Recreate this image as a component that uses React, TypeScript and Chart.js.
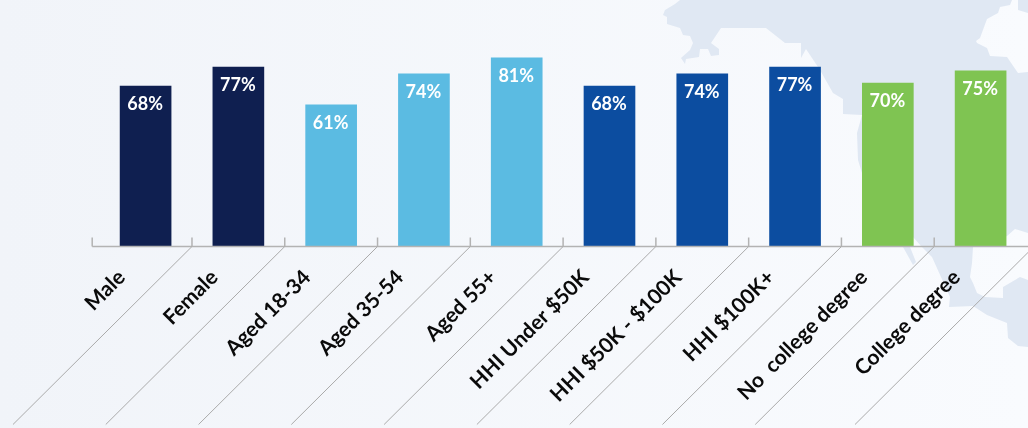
import React, { useEffect, useRef } from "react";
import { Chart, registerables } from "chart.js";

Chart.register(...registerables);

const categories = [
  "Male", "Female", "Aged 18-34", "Aged 35-54", "Aged 55+",
  "HHI Under $50K", "HHI $50K - $100K", "HHI $100K+", "No  college degree", "College degree",
];
// Bar heights.
const values = [68.8, 77.0, 60.7, 74.0, 80.9, 68.8, 74.0, 77.0, 70.1, 75.3];
// Percentages as printed on the bars.
const printedValues = [68, 77, 61, 74, 81, 68, 74, 77, 70, 75];
const barColors = [
  "#0f1f50", "#0f1f50", "#5bbbe2", "#5bbbe2", "#5bbbe2",
  "#0c4da0", "#0c4da0", "#0c4da0", "#7fc452", "#7fc452",
];

const MAP_MAIN =
  "680,0 675,4 665,10 663,15 667,17 667,24 680,28 683,35 690,36 693,43 690,50 681,58 685,64 686,59 699,57 700,49 708,49 711,56 719,55 719,49 711,43 721,28 766,28 785,43 801,43 801,58 806,49 820,70 833,93 843,99 843,114 862,115 857,133 858,160 862,173 880,210 900,240 903,247 913,265 916,262 910,247 913,237 921,246 932,257 950,297 949,307 973,306 987,315 1007,323 1008,338 1018,346 1028,347 1028,280 1020,277 1003,287 1003,298 985,297 977,293 973,283 970,277 972,263 973,247 1007,236 1015,229 1028,233 1028,72 1018,73 1007,57 990,56 987,48 977,43 976,41 980,38 987,19 998,13 1000,7 1010,5 1012,0";
const MAP_CORNER = "1018,0 1018,10 1028,13 1028,0";

const AXIS_COLOR = "#b3b3b3";
const DIAGONAL_COLOR = "#aaaaaa";

const decorPlugin = {
  id: "decor",
  afterDatasetsDraw(chart: any) {
    const { ctx, chartArea, scales } = chart;
    const x = scales.x;
    const n = categories.length;
    const step = x.getPixelForTick(1) - x.getPixelForTick(0);
    const axisY = chartArea.bottom + 0.5;
    const edges: number[] = [];
    for (let i = 0; i <= n; i++) {
      let px = x.getPixelForTick(0) + step * (i - 0.5);
      if (i === 0) px -= 7;
      if (i === n) px += 7;
      edges.push(px);
    }
    ctx.save();
    ctx.strokeStyle = AXIS_COLOR;
    ctx.lineWidth = 1.5;
    ctx.beginPath();
    ctx.moveTo(edges[0], axisY);
    ctx.lineTo(chart.width, axisY);
    edges.forEach((px) => {
      ctx.moveTo(px, axisY);
      ctx.lineTo(px, axisY - 9);
    });
    ctx.stroke();
    ctx.strokeStyle = DIAGONAL_COLOR;
    ctx.lineWidth = 1;
    ctx.beginPath();
    edges.slice(1).forEach((px) => {
      ctx.moveTo(px, axisY);
      ctx.lineTo(px - 179, axisY + 178);
    });
    ctx.stroke();
    ctx.restore();
  },
};

const valueLabelPlugin = {
  id: "valueLabels",
  afterDatasetsDraw(chart: any) {
    const { ctx } = chart;
    const meta = chart.getDatasetMeta(0);
    ctx.save();
    ctx.fillStyle = "#ffffff";
    ctx.font = 'bold 18px Lato';
    ctx.textAlign = "center";
    ctx.textBaseline = "middle";
    meta.data.forEach((bar: any, i: number) => {
      ctx.fillText(`${printedValues[i]}%`, bar.x - 0.5, bar.y + 18.5);
    });
    ctx.restore();
  },
};

export default function App() {
  const ref = useRef<HTMLCanvasElement>(null);
  useEffect(() => {
    document.body.style.margin = "0";
    const chart = new Chart(ref.current!, {
      type: "bar",
      data: {
        labels: categories,
        datasets: [{
          data: values,
          backgroundColor: barColors,
          barThickness: 51,
          borderWidth: 0,
        }],
      },
      plugins: [decorPlugin, valueLabelPlugin],
      options: {
        animation: false,
        responsive: false,
        layout: { padding: { left: 99.2, right: 1.0, top: 13.5, bottom: 0 } },
        plugins: { legend: { display: false }, tooltip: { enabled: false } },
        scales: {
          y: { display: false, min: 0, max: 100 },
          x: {
            offset: true,
            grid: { display: false },
            border: { display: false },
            afterFit(scale: any) { scale.height = 182; },
            ticks: {
              autoSkip: false,
              minRotation: 45,
              maxRotation: 45,
              padding: 11,
              labelOffset: -24,
              color: "#0a0a0a",
              font: { family: "Lato", weight: "bold", size: 21 },
            },
          },
        },
      },
    } as any);
    return () => chart.destroy();
  }, []);
  return (
    <div style={{ position: "fixed", left: 0, top: 0, width: 1028, height: 428, overflow: "hidden", background: "linear-gradient(90deg, #f1f4f9 0%, #f9fbfe 100%)" }}>
      <svg width={1028} height={428} style={{ position: "absolute", left: 0, top: 0 }}>
        <polygon points={MAP_MAIN} fill="#e0e8f3" />
        <polygon points={MAP_CORNER} fill="#e0e8f3" />
      </svg>
      <canvas ref={ref} width={1028} height={428} style={{ position: "absolute", left: 0, top: 0, display: "block" }} />
    </div>
  );
}
